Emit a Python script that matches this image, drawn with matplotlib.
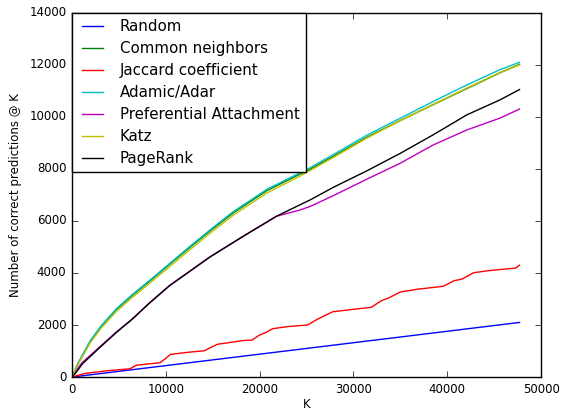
import matplotlib
matplotlib.use('Agg')
import matplotlib.pyplot as plt
import numpy as np

plt.style.use('classic')

# K values (x) and correct predictions (y)
k_top = [0, 500, 1100, 2000, 3100, 4700, 6400, 8200, 10400, 12500, 14700, 17200,
         20800, 24300, 25000, 27900, 31400, 35000, 38500, 42100, 45600, 47700]
adamic = [0, 420, 830, 1420, 1960, 2610, 3160, 3690, 4360, 5000, 5650, 6360,
          7220, 7850, 7970, 8560, 9290, 9950, 10590, 11230, 11810, 12100]
common = [0, 410, 820, 1400, 1940, 2580, 3130, 3660, 4330, 4960, 5610, 6310,
          7170, 7800, 7910, 8490, 9210, 9860, 10470, 11090, 11690, 12020]
katz = [0, 380, 770, 1340, 1870, 2510, 3050, 3580, 4240, 4870, 5520, 6220,
        7080, 7720, 7860, 8450, 9180, 9860, 10480, 11110, 11700, 12000]

k_mid = [0, 500, 1100, 2900, 4700, 6450, 8200, 10400, 11500, 14700, 18300, 21800,
         24300, 25400, 27900, 31400, 35000, 38500, 42100, 45600, 47700]
pref = [0, 280, 560, 1140, 1720, 2240, 2830, 3520, 3800, 4620, 5420, 6180,
        6420, 6560, 6980, 7600, 8220, 8920, 9500, 9950, 10300]
pagerank = [0, 200, 500, 1110, 1700, 2230, 2820, 3510, 3790, 4610, 5420, 6180,
            6620, 6810, 7300, 7920, 8600, 9310, 10080, 10650, 11050]

k_jac = [0, 1400, 3700, 6200, 6900, 9400, 10000, 10500, 12300, 14100, 15500, 18400,
         19200, 19960, 20700, 21400, 23000, 25100, 26200, 27800, 30100, 31900, 33000,
         33700, 35000, 36900, 39600, 40700, 41600, 42800, 44400, 47300, 47700]
jaccard = [0, 140, 240, 320, 460, 550, 720, 870, 950, 1010, 1260, 1410,
           1420, 1610, 1720, 1860, 1940, 2000, 2230, 2510, 2610, 2680, 2940,
           3030, 3270, 3380, 3490, 3700, 3770, 4010, 4090, 4190, 4300]

k_rand = [0, 10000, 20000, 30000, 40000, 47700]
random_ = [0, 440, 880, 1320, 1760, 2100]

fig = plt.figure(figsize=(5.66, 4.13), dpi=100, facecolor='white')
ax = fig.add_axes([0.127, 0.087, 0.829, 0.882])

ax.plot(k_rand, random_, 'b', lw=1, label='Random')
ax.plot(k_top, common, 'g', lw=1, label='Common neighbors')
ax.plot(k_jac, jaccard, 'r', lw=1, label='Jaccard coefficient')
ax.plot(k_top, adamic, 'c', lw=1, label='Adamic/Adar')
ax.plot(k_mid, pref, 'm', lw=1, label='Preferential Attachment')
ax.plot(k_top, katz, 'y', lw=1, label='Katz')
ax.plot(k_mid, pagerank, 'k', lw=1, label='PageRank')

ax.set_xlim(0, 50000)
ax.set_ylim(0, 14000)
ax.tick_params(labelsize=8.5)
ax.set_xlabel('K', fontsize=8.5, labelpad=1.5)
ax.set_ylabel('Number of correct predictions @ K', fontsize=8.5)

leg = ax.legend(loc='upper left', borderaxespad=0, fontsize=10.8,
                handlelength=2.0, labelspacing=0.47, fancybox=False)
leg.get_frame().set_edgecolor('black')

fig.savefig('out.png', dpi=100, facecolor='white')
